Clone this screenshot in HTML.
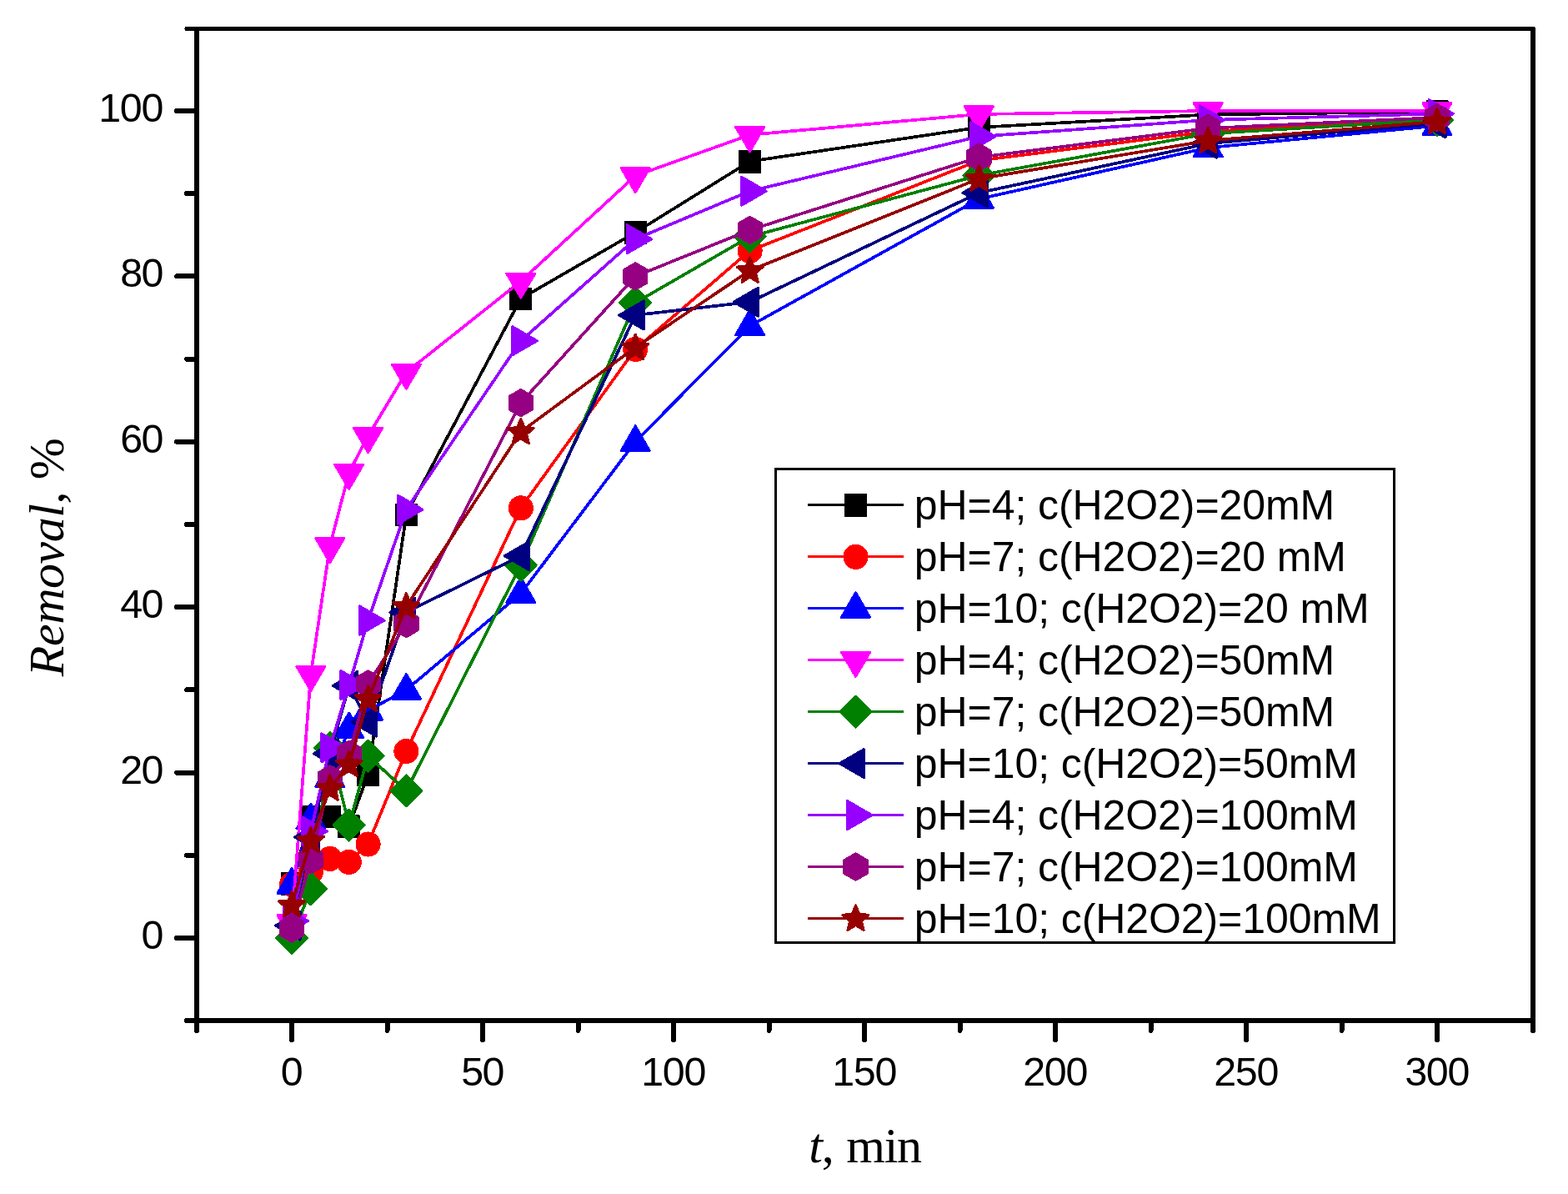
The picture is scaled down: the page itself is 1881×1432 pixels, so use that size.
<!DOCTYPE html>
<html lang="en"><head><meta charset="utf-8"><title>Removal vs t</title>
<style>html,body{margin:0;padding:0;background:#fff}body{width:1881px;height:1432px;overflow:hidden}svg{display:block}.a{font-family:"Liberation Sans",Arial,sans-serif;font-size:50px;fill:#000}.k{font-family:"Liberation Sans",Arial,sans-serif;font-size:48.4px;fill:#000}.t{font-family:"Liberation Serif","Times New Roman",serif;font-size:60px;fill:#000}</style></head><body>
<svg width="1881" height="1432" viewBox="0 0 1881 1432" shape-rendering="crispEdges">
<rect width="1881" height="1432" fill="#fff"/>
<g stroke="#000" stroke-width="6" stroke-linecap="round" fill="none">
<path d="M224 34.5H1839" stroke-width="5"/>
<path d="M224 1224H1839"/>
<path d="M236 35V1236"/>
<path d="M1839 35V1236"/>
<path d="M236 1125h-24M236 1025.8h-12M236 926.6h-24M236 827.4h-12M236 728.2h-24M236 629h-12M236 529.8h-24M236 430.6h-12M236 331.4h-24M236 232.2h-12M236 133h-24M350 1224v23M464.5 1224v12M579 1224v23M693.5 1224v12M808 1224v23M922.5 1224v12M1037 1224v23M1151.5 1224v12M1266 1224v23M1380.5 1224v12M1495 1224v23M1609.5 1224v12M1724 1224v23"/>
</g>
<g class="k">
<text x="196.3" y="1137.9" text-anchor="end" textLength="26" lengthAdjust="spacing">0</text>
<text x="196.3" y="939.5" text-anchor="end" textLength="52" lengthAdjust="spacing">20</text>
<text x="196.3" y="741.1" text-anchor="end" textLength="52" lengthAdjust="spacing">40</text>
<text x="196.3" y="542.7" text-anchor="end" textLength="52" lengthAdjust="spacing">60</text>
<text x="196.3" y="344.3" text-anchor="end" textLength="52" lengthAdjust="spacing">80</text>
<text x="196.3" y="145.9" text-anchor="end" textLength="78" lengthAdjust="spacing">100</text>
<text x="350.3" y="1301.5" text-anchor="middle" textLength="26" lengthAdjust="spacing">0</text>
<text x="579.3" y="1301.5" text-anchor="middle" textLength="52" lengthAdjust="spacing">50</text>
<text x="808.3" y="1301.5" text-anchor="middle" textLength="78" lengthAdjust="spacing">100</text>
<text x="1037.3" y="1301.5" text-anchor="middle" textLength="78" lengthAdjust="spacing">150</text>
<text x="1266.3" y="1301.5" text-anchor="middle" textLength="78" lengthAdjust="spacing">200</text>
<text x="1495.3" y="1301.5" text-anchor="middle" textLength="78" lengthAdjust="spacing">250</text>
<text x="1724.3" y="1301.5" text-anchor="middle" textLength="78" lengthAdjust="spacing">300</text>
</g>
<text class="t" x="1037.6" y="1394" text-anchor="middle" letter-spacing="-1.2" word-spacing="1.8"><tspan font-style="italic">t</tspan>, min</text>
<text class="t" transform="translate(76.4 668.5) rotate(-90)" text-anchor="middle" letter-spacing="-0.45"><tspan font-style="italic">Removal</tspan>, %</text>
<g shape-rendering="crispEdges">
<polyline fill="none" stroke="#000000" stroke-width="3.7" stroke-linejoin="round" points="350,1059.53 372.9,979.18 395.8,979.18 418.7,991.08 441.6,928.58 487.4,617.1 624.8,358.18 762.2,278.82 899.6,193.51 1174.4,152.84 1449.2,137.46 1724,133.99"/>
<rect x="336.6" y="1045.93" width="26.9" height="27.8" rx="0.8" fill="#000000"/>
<rect x="359.5" y="965.58" width="26.9" height="27.8" rx="0.8" fill="#000000"/>
<rect x="382.4" y="965.58" width="26.9" height="27.8" rx="0.8" fill="#000000"/>
<rect x="405.3" y="977.48" width="26.9" height="27.8" rx="0.8" fill="#000000"/>
<rect x="428.2" y="914.98" width="26.9" height="27.8" rx="0.8" fill="#000000"/>
<rect x="474" y="603.5" width="26.9" height="27.8" rx="0.8" fill="#000000"/>
<rect x="611.4" y="344.58" width="26.9" height="27.8" rx="0.8" fill="#000000"/>
<rect x="748.8" y="265.22" width="26.9" height="27.8" rx="0.8" fill="#000000"/>
<rect x="886.2" y="179.91" width="26.9" height="27.8" rx="0.8" fill="#000000"/>
<rect x="1161" y="139.24" width="26.9" height="27.8" rx="0.8" fill="#000000"/>
<rect x="1435.8" y="123.86" width="26.9" height="27.8" rx="0.8" fill="#000000"/>
<rect x="1710.6" y="120.39" width="26.9" height="27.8" rx="0.8" fill="#000000"/>
</g>
<g shape-rendering="crispEdges">
<polyline fill="none" stroke="#ff0000" stroke-width="3.7" stroke-linejoin="round" points="350,1060.52 372.9,1045.64 395.8,1029.77 418.7,1033.74 441.6,1012.31 487.4,900.81 624.8,609.16 762.2,418.7 899.6,300.65 1174.4,192.52 1449.2,157.8 1724,142.92"/>
<circle cx="350" cy="1060.72" r="15.05" fill="#ff0000"/>
<circle cx="372.9" cy="1045.84" r="15.05" fill="#ff0000"/>
<circle cx="395.8" cy="1029.97" r="15.05" fill="#ff0000"/>
<circle cx="418.7" cy="1033.94" r="15.05" fill="#ff0000"/>
<circle cx="441.6" cy="1012.51" r="15.05" fill="#ff0000"/>
<circle cx="487.4" cy="901.01" r="15.05" fill="#ff0000"/>
<circle cx="624.8" cy="609.36" r="15.05" fill="#ff0000"/>
<circle cx="762.2" cy="418.9" r="15.05" fill="#ff0000"/>
<circle cx="899.6" cy="300.85" r="15.05" fill="#ff0000"/>
<circle cx="1174.4" cy="192.72" r="15.05" fill="#ff0000"/>
<circle cx="1449.2" cy="158" r="15.05" fill="#ff0000"/>
<circle cx="1724" cy="143.12" r="15.05" fill="#ff0000"/>
</g>
<g shape-rendering="crispEdges">
<polyline fill="none" stroke="#0000ff" stroke-width="3.7" stroke-linejoin="round" points="350,1060.52 372.9,983.14 395.8,932.55 418.7,874.02 441.6,852.2 487.4,827.4 624.8,711.83 762.2,529.8 899.6,390.92 1174.4,238.65 1449.2,177.14 1724,150.86"/>
<polygon points="350,1041.62 367,1071.32 333,1071.32" fill="#0000ff" stroke="#0000ff" stroke-width="3" stroke-linejoin="round"/>
<polygon points="372.9,964.24 389.9,993.94 355.9,993.94" fill="#0000ff" stroke="#0000ff" stroke-width="3" stroke-linejoin="round"/>
<polygon points="395.8,913.65 412.8,943.35 378.8,943.35" fill="#0000ff" stroke="#0000ff" stroke-width="3" stroke-linejoin="round"/>
<polygon points="418.7,855.12 435.7,884.82 401.7,884.82" fill="#0000ff" stroke="#0000ff" stroke-width="3" stroke-linejoin="round"/>
<polygon points="441.6,833.3 458.6,863 424.6,863" fill="#0000ff" stroke="#0000ff" stroke-width="3" stroke-linejoin="round"/>
<polygon points="487.4,808.5 504.4,838.2 470.4,838.2" fill="#0000ff" stroke="#0000ff" stroke-width="3" stroke-linejoin="round"/>
<polygon points="624.8,692.93 641.8,722.63 607.8,722.63" fill="#0000ff" stroke="#0000ff" stroke-width="3" stroke-linejoin="round"/>
<polygon points="762.2,510.9 779.2,540.6 745.2,540.6" fill="#0000ff" stroke="#0000ff" stroke-width="3" stroke-linejoin="round"/>
<polygon points="899.6,372.02 916.6,401.72 882.6,401.72" fill="#0000ff" stroke="#0000ff" stroke-width="3" stroke-linejoin="round"/>
<polygon points="1174.4,219.75 1191.4,249.45 1157.4,249.45" fill="#0000ff" stroke="#0000ff" stroke-width="3" stroke-linejoin="round"/>
<polygon points="1449.2,158.24 1466.2,187.94 1432.2,187.94" fill="#0000ff" stroke="#0000ff" stroke-width="3" stroke-linejoin="round"/>
<polygon points="1724,131.96 1741,161.66 1707,161.66" fill="#0000ff" stroke="#0000ff" stroke-width="3" stroke-linejoin="round"/>
</g>
<g shape-rendering="crispEdges">
<polyline fill="none" stroke="#ff00ff" stroke-width="3.7" stroke-linejoin="round" points="350,1107.14 372.9,808.55 395.8,654.79 418.7,566.5 441.6,522.86 487.4,446.47 624.8,337.35 762.2,210.87 899.6,161.77 1174.4,136.97 1449.2,133 1724,133"/>
<polygon points="350,1126.94 367,1097.84 333,1097.84" fill="#ff00ff" stroke="#ff00ff" stroke-width="3" stroke-linejoin="round"/>
<polygon points="372.9,828.35 389.9,799.25 355.9,799.25" fill="#ff00ff" stroke="#ff00ff" stroke-width="3" stroke-linejoin="round"/>
<polygon points="395.8,674.59 412.8,645.49 378.8,645.49" fill="#ff00ff" stroke="#ff00ff" stroke-width="3" stroke-linejoin="round"/>
<polygon points="418.7,586.3 435.7,557.2 401.7,557.2" fill="#ff00ff" stroke="#ff00ff" stroke-width="3" stroke-linejoin="round"/>
<polygon points="441.6,542.66 458.6,513.56 424.6,513.56" fill="#ff00ff" stroke="#ff00ff" stroke-width="3" stroke-linejoin="round"/>
<polygon points="487.4,466.27 504.4,437.17 470.4,437.17" fill="#ff00ff" stroke="#ff00ff" stroke-width="3" stroke-linejoin="round"/>
<polygon points="624.8,357.15 641.8,328.05 607.8,328.05" fill="#ff00ff" stroke="#ff00ff" stroke-width="3" stroke-linejoin="round"/>
<polygon points="762.2,230.67 779.2,201.57 745.2,201.57" fill="#ff00ff" stroke="#ff00ff" stroke-width="3" stroke-linejoin="round"/>
<polygon points="899.6,181.57 916.6,152.47 882.6,152.47" fill="#ff00ff" stroke="#ff00ff" stroke-width="3" stroke-linejoin="round"/>
<polygon points="1174.4,156.77 1191.4,127.67 1157.4,127.67" fill="#ff00ff" stroke="#ff00ff" stroke-width="3" stroke-linejoin="round"/>
<polygon points="1449.2,152.8 1466.2,123.7 1432.2,123.7" fill="#ff00ff" stroke="#ff00ff" stroke-width="3" stroke-linejoin="round"/>
<polygon points="1724,152.8 1741,123.7 1707,123.7" fill="#ff00ff" stroke="#ff00ff" stroke-width="3" stroke-linejoin="round"/>
</g>
<g shape-rendering="crispEdges">
<polyline fill="none" stroke="#008000" stroke-width="3.7" stroke-linejoin="round" points="350,1125 372.9,1066.47 395.8,896.84 418.7,989.59 441.6,906.76 487.4,948.42 624.8,677.61 762.2,363.14 899.6,283.78 1174.4,210.38 1449.2,160.28 1724,143.91"/>
<polygon points="350,1106.5 368.5,1125 350,1143.5 331.5,1125" fill="#008000" stroke="#008000" stroke-width="3" stroke-linejoin="round"/>
<polygon points="372.9,1047.97 391.4,1066.47 372.9,1084.97 354.4,1066.47" fill="#008000" stroke="#008000" stroke-width="3" stroke-linejoin="round"/>
<polygon points="395.8,878.34 414.3,896.84 395.8,915.34 377.3,896.84" fill="#008000" stroke="#008000" stroke-width="3" stroke-linejoin="round"/>
<polygon points="418.7,971.09 437.2,989.59 418.7,1008.09 400.2,989.59" fill="#008000" stroke="#008000" stroke-width="3" stroke-linejoin="round"/>
<polygon points="441.6,888.26 460.1,906.76 441.6,925.26 423.1,906.76" fill="#008000" stroke="#008000" stroke-width="3" stroke-linejoin="round"/>
<polygon points="487.4,929.92 505.9,948.42 487.4,966.92 468.9,948.42" fill="#008000" stroke="#008000" stroke-width="3" stroke-linejoin="round"/>
<polygon points="624.8,659.11 643.3,677.61 624.8,696.11 606.3,677.61" fill="#008000" stroke="#008000" stroke-width="3" stroke-linejoin="round"/>
<polygon points="762.2,344.64 780.7,363.14 762.2,381.64 743.7,363.14" fill="#008000" stroke="#008000" stroke-width="3" stroke-linejoin="round"/>
<polygon points="899.6,265.28 918.1,283.78 899.6,302.28 881.1,283.78" fill="#008000" stroke="#008000" stroke-width="3" stroke-linejoin="round"/>
<polygon points="1174.4,191.88 1192.9,210.38 1174.4,228.88 1155.9,210.38" fill="#008000" stroke="#008000" stroke-width="3" stroke-linejoin="round"/>
<polygon points="1449.2,141.78 1467.7,160.28 1449.2,178.78 1430.7,160.28" fill="#008000" stroke="#008000" stroke-width="3" stroke-linejoin="round"/>
<polygon points="1724,125.41 1742.5,143.91 1724,162.41 1705.5,143.91" fill="#008000" stroke="#008000" stroke-width="3" stroke-linejoin="round"/>
</g>
<g shape-rendering="crispEdges">
<polyline fill="none" stroke="#000080" stroke-width="3.7" stroke-linejoin="round" points="350,1110.12 372.9,1003.98 395.8,903.78 418.7,822.44 441.6,866.09 487.4,734.15 624.8,666.7 762.2,378.02 899.6,362.15 1174.4,231.21 1449.2,172.18 1724,147.88"/>
<polygon points="330.5,1110.12 360,1093.12 360,1127.12" fill="#000080" stroke="#000080" stroke-width="3" stroke-linejoin="round"/>
<polygon points="353.4,1003.98 382.9,986.98 382.9,1020.98" fill="#000080" stroke="#000080" stroke-width="3" stroke-linejoin="round"/>
<polygon points="376.3,903.78 405.8,886.78 405.8,920.78" fill="#000080" stroke="#000080" stroke-width="3" stroke-linejoin="round"/>
<polygon points="399.2,822.44 428.7,805.44 428.7,839.44" fill="#000080" stroke="#000080" stroke-width="3" stroke-linejoin="round"/>
<polygon points="422.1,866.09 451.6,849.09 451.6,883.09" fill="#000080" stroke="#000080" stroke-width="3" stroke-linejoin="round"/>
<polygon points="467.9,734.15 497.4,717.15 497.4,751.15" fill="#000080" stroke="#000080" stroke-width="3" stroke-linejoin="round"/>
<polygon points="605.3,666.7 634.8,649.7 634.8,683.7" fill="#000080" stroke="#000080" stroke-width="3" stroke-linejoin="round"/>
<polygon points="742.7,378.02 772.2,361.02 772.2,395.02" fill="#000080" stroke="#000080" stroke-width="3" stroke-linejoin="round"/>
<polygon points="880.1,362.15 909.6,345.15 909.6,379.15" fill="#000080" stroke="#000080" stroke-width="3" stroke-linejoin="round"/>
<polygon points="1154.9,231.21 1184.4,214.21 1184.4,248.21" fill="#000080" stroke="#000080" stroke-width="3" stroke-linejoin="round"/>
<polygon points="1429.7,172.18 1459.2,155.18 1459.2,189.18" fill="#000080" stroke="#000080" stroke-width="3" stroke-linejoin="round"/>
<polygon points="1704.5,147.88 1734,130.88 1734,164.88" fill="#000080" stroke="#000080" stroke-width="3" stroke-linejoin="round"/>
</g>
<g shape-rendering="crispEdges">
<polyline fill="none" stroke="#9600ff" stroke-width="3.7" stroke-linejoin="round" points="350,1104.56 372.9,997.03 395.8,896.84 418.7,821.45 441.6,744.07 487.4,611.14 624.8,408.78 762.2,286.76 899.6,229.22 1174.4,163.75 1449.2,143.91 1724,136.47"/>
<polygon points="369.5,1104.56 340,1087.56 340,1121.56" fill="#9600ff" stroke="#9600ff" stroke-width="3" stroke-linejoin="round"/>
<polygon points="392.4,997.03 362.9,980.03 362.9,1014.03" fill="#9600ff" stroke="#9600ff" stroke-width="3" stroke-linejoin="round"/>
<polygon points="415.3,896.84 385.8,879.84 385.8,913.84" fill="#9600ff" stroke="#9600ff" stroke-width="3" stroke-linejoin="round"/>
<polygon points="438.2,821.45 408.7,804.45 408.7,838.45" fill="#9600ff" stroke="#9600ff" stroke-width="3" stroke-linejoin="round"/>
<polygon points="461.1,744.07 431.6,727.07 431.6,761.07" fill="#9600ff" stroke="#9600ff" stroke-width="3" stroke-linejoin="round"/>
<polygon points="506.9,611.14 477.4,594.14 477.4,628.14" fill="#9600ff" stroke="#9600ff" stroke-width="3" stroke-linejoin="round"/>
<polygon points="644.3,408.78 614.8,391.78 614.8,425.78" fill="#9600ff" stroke="#9600ff" stroke-width="3" stroke-linejoin="round"/>
<polygon points="781.7,286.76 752.2,269.76 752.2,303.76" fill="#9600ff" stroke="#9600ff" stroke-width="3" stroke-linejoin="round"/>
<polygon points="919.1,229.22 889.6,212.22 889.6,246.22" fill="#9600ff" stroke="#9600ff" stroke-width="3" stroke-linejoin="round"/>
<polygon points="1193.9,163.75 1164.4,146.75 1164.4,180.75" fill="#9600ff" stroke="#9600ff" stroke-width="3" stroke-linejoin="round"/>
<polygon points="1468.7,143.91 1439.2,126.91 1439.2,160.91" fill="#9600ff" stroke="#9600ff" stroke-width="3" stroke-linejoin="round"/>
<polygon points="1743.5,136.47 1714,119.47 1714,153.47" fill="#9600ff" stroke="#9600ff" stroke-width="3" stroke-linejoin="round"/>
</g>
<g shape-rendering="crispEdges">
<polyline fill="none" stroke="#960082" stroke-width="3.7" stroke-linejoin="round" points="350,1113.59 372.9,1031.26 395.8,934.54 418.7,904.78 441.6,820.46 487.4,748.04 624.8,483.18 762.2,331.4 899.6,275.85 1174.4,188.55 1449.2,153.83 1724,140.94"/>
<polygon points="350,1097.89 363.6,1105.74 363.6,1121.44 350,1129.29 336.4,1121.44 336.4,1105.74" fill="#960082" stroke="#960082" stroke-width="3" stroke-linejoin="round"/>
<polygon points="372.9,1015.56 386.5,1023.41 386.5,1039.11 372.9,1046.96 359.3,1039.11 359.3,1023.41" fill="#960082" stroke="#960082" stroke-width="3" stroke-linejoin="round"/>
<polygon points="395.8,918.84 409.4,926.69 409.4,942.39 395.8,950.24 382.2,942.39 382.2,926.69" fill="#960082" stroke="#960082" stroke-width="3" stroke-linejoin="round"/>
<polygon points="418.7,889.08 432.3,896.93 432.3,912.63 418.7,920.48 405.1,912.63 405.1,896.93" fill="#960082" stroke="#960082" stroke-width="3" stroke-linejoin="round"/>
<polygon points="441.6,804.76 455.2,812.61 455.2,828.31 441.6,836.16 428,828.31 428,812.61" fill="#960082" stroke="#960082" stroke-width="3" stroke-linejoin="round"/>
<polygon points="487.4,732.34 501,740.19 501,755.89 487.4,763.74 473.8,755.89 473.8,740.19" fill="#960082" stroke="#960082" stroke-width="3" stroke-linejoin="round"/>
<polygon points="624.8,467.48 638.4,475.33 638.4,491.03 624.8,498.88 611.2,491.03 611.2,475.33" fill="#960082" stroke="#960082" stroke-width="3" stroke-linejoin="round"/>
<polygon points="762.2,315.7 775.8,323.55 775.8,339.25 762.2,347.1 748.6,339.25 748.6,323.55" fill="#960082" stroke="#960082" stroke-width="3" stroke-linejoin="round"/>
<polygon points="899.6,260.15 913.2,268 913.2,283.7 899.6,291.55 886,283.7 886,268" fill="#960082" stroke="#960082" stroke-width="3" stroke-linejoin="round"/>
<polygon points="1174.4,172.85 1188,180.7 1188,196.4 1174.4,204.25 1160.8,196.4 1160.8,180.7" fill="#960082" stroke="#960082" stroke-width="3" stroke-linejoin="round"/>
<polygon points="1449.2,138.13 1462.8,145.98 1462.8,161.68 1449.2,169.53 1435.6,161.68 1435.6,145.98" fill="#960082" stroke="#960082" stroke-width="3" stroke-linejoin="round"/>
<polygon points="1724,125.24 1737.6,133.09 1737.6,148.79 1724,156.64 1710.4,148.79 1710.4,133.09" fill="#960082" stroke="#960082" stroke-width="3" stroke-linejoin="round"/>
</g>
<g shape-rendering="crispEdges">
<polyline fill="none" stroke="#960000" stroke-width="3.7" stroke-linejoin="round" points="350,1085.32 372.9,1007.94 395.8,945.45 418.7,916.68 441.6,838.31 487.4,727.21 624.8,517.9 762.2,416.71 899.6,324.46 1174.4,214.34 1449.2,168.71 1724,145.9"/>
<polygon points="350,1069.72 354.29,1080.11 365.5,1080.98 356.94,1088.28 359.58,1099.21 350,1093.32 340.42,1099.21 343.06,1088.28 334.5,1080.98 345.71,1080.11" fill="#960000" stroke="#960000" stroke-width="3" stroke-linejoin="round"/>
<polygon points="372.9,992.34 377.19,1002.74 388.4,1003.61 379.84,1010.9 382.48,1021.83 372.9,1015.94 363.32,1021.83 365.96,1010.9 357.4,1003.61 368.61,1002.74" fill="#960000" stroke="#960000" stroke-width="3" stroke-linejoin="round"/>
<polygon points="395.8,929.85 400.09,940.24 411.3,941.11 402.74,948.4 405.38,959.33 395.8,953.45 386.22,959.33 388.86,948.4 380.3,941.11 391.51,940.24" fill="#960000" stroke="#960000" stroke-width="3" stroke-linejoin="round"/>
<polygon points="418.7,901.08 422.99,911.47 434.2,912.34 425.64,919.64 428.28,930.57 418.7,924.68 409.12,930.57 411.76,919.64 403.2,912.34 414.41,911.47" fill="#960000" stroke="#960000" stroke-width="3" stroke-linejoin="round"/>
<polygon points="441.6,822.71 445.89,833.11 457.1,833.98 448.54,841.27 451.18,852.2 441.6,846.31 432.02,852.2 434.66,841.27 426.1,833.98 437.31,833.11" fill="#960000" stroke="#960000" stroke-width="3" stroke-linejoin="round"/>
<polygon points="487.4,711.61 491.69,722 502.9,722.87 494.34,730.16 496.98,741.09 487.4,735.21 477.82,741.09 480.46,730.16 471.9,722.87 483.11,722" fill="#960000" stroke="#960000" stroke-width="3" stroke-linejoin="round"/>
<polygon points="624.8,502.3 629.09,512.69 640.3,513.56 631.74,520.85 634.38,531.78 624.8,525.9 615.22,531.78 617.86,520.85 609.3,513.56 620.51,512.69" fill="#960000" stroke="#960000" stroke-width="3" stroke-linejoin="round"/>
<polygon points="762.2,401.11 766.49,411.51 777.7,412.38 769.14,419.67 771.78,430.6 762.2,424.71 752.62,430.6 755.26,419.67 746.7,412.38 757.91,411.51" fill="#960000" stroke="#960000" stroke-width="3" stroke-linejoin="round"/>
<polygon points="899.6,308.86 903.89,319.25 915.1,320.12 906.54,327.41 909.18,338.34 899.6,332.46 890.02,338.34 892.66,327.41 884.1,320.12 895.31,319.25" fill="#960000" stroke="#960000" stroke-width="3" stroke-linejoin="round"/>
<polygon points="1174.4,198.74 1178.69,209.14 1189.9,210.01 1181.34,217.3 1183.98,228.23 1174.4,222.34 1164.82,228.23 1167.46,217.3 1158.9,210.01 1170.11,209.14" fill="#960000" stroke="#960000" stroke-width="3" stroke-linejoin="round"/>
<polygon points="1449.2,153.11 1453.49,163.51 1464.7,164.38 1456.14,171.67 1458.78,182.6 1449.2,176.71 1439.62,182.6 1442.26,171.67 1433.7,164.38 1444.91,163.51" fill="#960000" stroke="#960000" stroke-width="3" stroke-linejoin="round"/>
<polygon points="1724,130.3 1728.29,140.69 1739.5,141.56 1730.94,148.85 1733.58,159.78 1724,153.9 1714.42,159.78 1717.06,148.85 1708.5,141.56 1719.71,140.69" fill="#960000" stroke="#960000" stroke-width="3" stroke-linejoin="round"/>
</g>
<rect x="930.5" y="562.5" width="742" height="568" fill="#fff" stroke="#000" stroke-width="3"/>
<path d="M969 605.6H1084" stroke="#000000" stroke-width="3.4" fill="none"/>
<rect x="1013.1" y="592" width="26.9" height="27.8" rx="0.8" fill="#000000"/>
<text class="a" x="1096.8" y="623" letter-spacing="-0.08">pH=4; c(H2O2)=20mM</text>
<path d="M969 667.6H1084" stroke="#ff0000" stroke-width="3.4" fill="none"/>
<circle cx="1026.5" cy="667.8" r="15.05" fill="#ff0000"/>
<text class="a" x="1096.8" y="685" letter-spacing="-0.08">pH=7; c(H2O2)=20 mM</text>
<path d="M969 729.6H1084" stroke="#0000ff" stroke-width="3.4" fill="none"/>
<polygon points="1026.5,710.7 1043.5,740.4 1009.5,740.4" fill="#0000ff" stroke="#0000ff" stroke-width="3" stroke-linejoin="round"/>
<text class="a" x="1096.8" y="747" letter-spacing="-0.08">pH=10; c(H2O2)=20 mM</text>
<path d="M969 791.6H1084" stroke="#ff00ff" stroke-width="3.4" fill="none"/>
<polygon points="1026.5,811.4 1043.5,782.3 1009.5,782.3" fill="#ff00ff" stroke="#ff00ff" stroke-width="3" stroke-linejoin="round"/>
<text class="a" x="1096.8" y="809" letter-spacing="-0.08">pH=4; c(H2O2)=50mM</text>
<path d="M969 853.6H1084" stroke="#008000" stroke-width="3.4" fill="none"/>
<polygon points="1026.5,835.1 1045,853.6 1026.5,872.1 1008,853.6" fill="#008000" stroke="#008000" stroke-width="3" stroke-linejoin="round"/>
<text class="a" x="1096.8" y="871" letter-spacing="-0.08">pH=7; c(H2O2)=50mM</text>
<path d="M969 915.6H1084" stroke="#000080" stroke-width="3.4" fill="none"/>
<polygon points="1007,915.6 1036.5,898.6 1036.5,932.6" fill="#000080" stroke="#000080" stroke-width="3" stroke-linejoin="round"/>
<text class="a" x="1096.8" y="933" letter-spacing="-0.08">pH=10; c(H2O2)=50mM</text>
<path d="M969 977.6H1084" stroke="#9600ff" stroke-width="3.4" fill="none"/>
<polygon points="1046,977.6 1016.5,960.6 1016.5,994.6" fill="#9600ff" stroke="#9600ff" stroke-width="3" stroke-linejoin="round"/>
<text class="a" x="1096.8" y="995" letter-spacing="-0.08">pH=4; c(H2O2)=100mM</text>
<path d="M969 1039.6H1084" stroke="#960082" stroke-width="3.4" fill="none"/>
<polygon points="1026.5,1023.9 1040.1,1031.75 1040.1,1047.45 1026.5,1055.3 1012.9,1047.45 1012.9,1031.75" fill="#960082" stroke="#960082" stroke-width="3" stroke-linejoin="round"/>
<text class="a" x="1096.8" y="1057" letter-spacing="-0.08">pH=7; c(H2O2)=100mM</text>
<path d="M969 1101.6H1084" stroke="#960000" stroke-width="3.4" fill="none"/>
<polygon points="1026.5,1086 1030.79,1096.39 1042,1097.26 1033.44,1104.56 1036.08,1115.49 1026.5,1109.6 1016.92,1115.49 1019.56,1104.56 1011,1097.26 1022.21,1096.39" fill="#960000" stroke="#960000" stroke-width="3" stroke-linejoin="round"/>
<text class="a" x="1096.8" y="1119" letter-spacing="-0.08">pH=10; c(H2O2)=100mM</text>
</svg></body></html>
